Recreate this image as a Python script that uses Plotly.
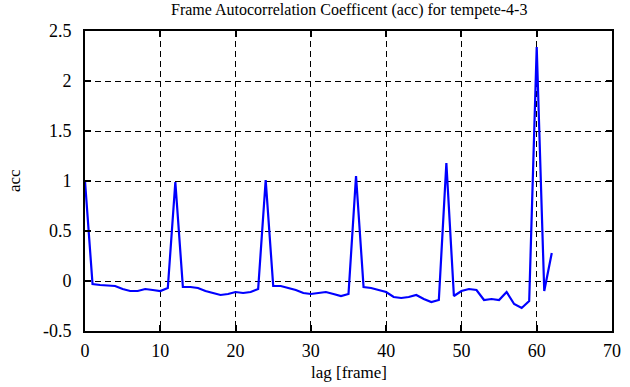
import plotly.graph_objects as go

lags = list(range(63))
acc = [1.0, -0.03, -0.04, -0.045, -0.05, -0.08, -0.1, -0.1, -0.08, -0.09,
       -0.1, -0.07, 0.99, -0.06, -0.06, -0.07, -0.1, -0.12, -0.14, -0.13,
       -0.11, -0.12, -0.11, -0.08, 1.01, -0.05, -0.05, -0.07, -0.09, -0.12,
       -0.13, -0.12, -0.11, -0.13, -0.15, -0.13, 1.05, -0.06, -0.07, -0.09,
       -0.11, -0.16, -0.17, -0.16, -0.14, -0.18, -0.21, -0.19, 1.18, -0.15,
       -0.1, -0.08, -0.09, -0.19, -0.18, -0.19, -0.11, -0.23, -0.27, -0.2,
       2.34, -0.1, 0.28]
x_ticks = [0, 10, 20, 30, 40, 50, 60, 70]
y_ticks = [-0.5, 0, 0.5, 1, 1.5, 2, 2.5]
y_ticklabels = ["-0.5", "0", "0.5", "1", "1.5", "2", "2.5"]

title = "Frame Autocorrelation Coefficent (acc) for tempete-4-3"
font = "Liberation Serif"

fig = go.Figure()
fig.add_trace(go.Scatter(x=lags, y=acc, mode="lines",
                         line=dict(color="#0000ff", width=2.2)))

axis_common = dict(showline=True, linecolor="black", linewidth=2, mirror="ticks",
                   ticks="inside", ticklen=6, tickwidth=1.5, tickcolor="black",
                   showgrid=True, gridcolor="black", gridwidth=1, griddash="6px,4px",
                   zeroline=False, automargin=False,
                   tickfont=dict(family=font, size=18, color="black"))

fig.update_layout(
    width=630, height=387,
    margin=dict(l=85, r=18, t=31, b=56),
    font=dict(family=font, size=17, color="black"),
    paper_bgcolor="white", plot_bgcolor="white",
    showlegend=False,
    xaxis=dict(range=[0, 70], tickvals=x_ticks, ticklabelstandoff=2, **axis_common),
    yaxis=dict(range=[-0.5, 2.5], tickvals=y_ticks, ticktext=y_ticklabels,
               ticklabelstandoff=8, **axis_common),
    annotations=[
        dict(text=title, xref="paper", yref="paper", x=0.5, y=1, yshift=10,
             xanchor="center", yanchor="bottom", showarrow=False,
             font=dict(family=font, size=16, color="black")),
        dict(text="lag [frame]", xref="paper", yref="paper", x=0.5, y=0, yshift=-30,
             xanchor="center", yanchor="top", showarrow=False,
             font=dict(family=font, size=17, color="black")),
        dict(text="acc", xref="paper", yref="paper", x=0, xshift=-71, y=0.5,
             xanchor="center", yanchor="middle", textangle=-90, showarrow=False,
             font=dict(family=font, size=17, color="black")),
    ],
)

fig.write_html("out.html", config={"displayModeBar": False},
               post_script="document.body.style.margin='0';document.body.style.overflow='hidden';")
